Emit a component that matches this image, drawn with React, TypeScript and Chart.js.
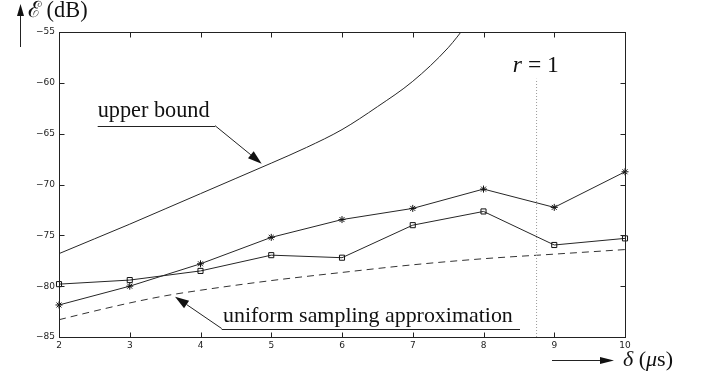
import React, { useEffect, useRef } from "react";
import { Chart, registerables } from "chart.js";

Chart.register(...registerables);

// ---- data ----
const xTicks = [2, 3, 4, 5, 6, 7, 8, 9, 10];
const yTicks = [-85, -80, -75, -70, -65, -60, -55];

const delta = [2, 3, 4, 5, 6, 7, 8, 9, 10];
const errStar = [-81.85, -80.0, -77.8, -75.2, -73.45, -72.35, -70.45, -72.25, -68.75];
const errSquare = [-79.8, -79.4, -78.5, -76.95, -77.2, -74.0, -72.65, -75.95, -75.3];

const uniformDelta = [2, 2.5, 3, 3.5, 4, 5, 6, 7, 8, 9, 10];
const uniformApprox = [-83.3, -82.45, -81.65, -80.95, -80.4, -79.45, -78.65, -77.9, -77.3, -76.85, -76.4];

const boundDelta = [2, 2.5, 3, 3.5, 4, 4.5, 5, 5.5, 6, 6.5, 7, 7.5, 7.75];
const upperBound = [-76.8, -75.35, -73.9, -72.4, -70.9, -69.4, -67.9, -66.35, -64.6, -62.35, -59.85, -56.55, -54.4];

const rLineDelta = [8.75, 8.75];
const rLineErr = [-85, -59.6];

const pts = (xs: number[], ys: number[]) => xs.map((x, i) => ({ x, y: ys[i] }));

type Part = { t: string; italic?: boolean };

function drawParts(ctx: CanvasRenderingContext2D, parts: Part[], family: string, targetW: number, x: number, y: number, align: "left" | "center") {
  const base = 20;
  const font = (size: number, it?: boolean) => `${it ? "italic " : ""}${size}px ${family}`;
  let w = 0;
  for (const p of parts) { ctx.font = font(base, p.italic); w += ctx.measureText(p.t).width; }
  const size = (base * targetW) / w;
  let total = 0;
  for (const p of parts) { ctx.font = font(size, p.italic); total += ctx.measureText(p.t).width; }
  let cx = align === "center" ? x - total / 2 : x;
  ctx.textBaseline = "alphabetic";
  ctx.textAlign = "left";
  for (const p of parts) {
    ctx.font = font(size, p.italic);
    ctx.fillText(p.t, cx, y);
    cx += ctx.measureText(p.t).width;
  }
}

function arrow(ctx: CanvasRenderingContext2D, x1: number, y1: number, x2: number, y2: number, len: number, half: number) {
  const ang = Math.atan2(y2 - y1, x2 - x1);
  const bx = x2 - len * Math.cos(ang), by = y2 - len * Math.sin(ang);
  ctx.beginPath();
  ctx.moveTo(x1, y1);
  ctx.lineTo(bx, by);
  ctx.stroke();
  ctx.beginPath();
  ctx.moveTo(x2, y2);
  ctx.lineTo(bx + half * Math.sin(ang), by - half * Math.cos(ang));
  ctx.lineTo(bx - half * Math.sin(ang), by + half * Math.cos(ang));
  ctx.closePath();
  ctx.fill();
}

const serif = '"Liberation Serif", "DejaVu Serif", serif';

const decor = {
  id: "decor",
  afterDatasetsDraw(chart: any) {
    const { ctx, chartArea: a, scales } = chart;
    const xs = scales.x, ys = scales.y;
    const X = (v: number) => xs.getPixelForValue(v);
    const Y = (v: number) => ys.getPixelForValue(v);
    ctx.save();
    ctx.strokeStyle = "#222";
    ctx.fillStyle = "#111";
    ctx.lineWidth = 1;
    const L = Math.round(a.left) + 0.5, R = Math.round(a.right) + 0.5;
    const T = Math.round(a.top) + 0.5, B = Math.round(a.bottom) + 0.5;
    ctx.strokeRect(L, T, R - L, B - T);
    const tl = 5;
    ctx.beginPath();
    for (const v of xTicks) {
      const p = Math.round(X(v)) + 0.5;
      ctx.moveTo(p, B); ctx.lineTo(p, B - tl);
      ctx.moveTo(p, T); ctx.lineTo(p, T + tl);
    }
    for (const v of yTicks) {
      const p = Math.round(Y(v)) + 0.5;
      ctx.moveTo(L, p); ctx.lineTo(L + tl, p);
      ctx.moveTo(R, p); ctx.lineTo(R - tl, p);
    }
    ctx.stroke();

    // annotation: upper bound
    ctx.fillStyle = "#111";
    drawParts(ctx, [{ t: "upper bound" }], serif, 112, X(2.547), Y(-63.33), "left");
    ctx.beginPath();
    ctx.moveTo(X(2.547), Math.round(Y(-64.21)) + 0.5);
    ctx.lineTo(X(4.205), Math.round(Y(-64.21)) + 0.5);
    ctx.stroke();
    arrow(ctx, X(4.205), Y(-64.21), X(4.865), Y(-67.95), 14, 4.5);

    // annotation: uniform sampling approximation
    drawParts(ctx, [{ t: "uniform sampling approximation" }], serif, 290, X(4.318), Y(-83.49), "left");
    ctx.beginPath();
    ctx.moveTo(X(4.3), Math.round(Y(-84.17)) + 0.5);
    ctx.lineTo(X(8.516), Math.round(Y(-84.17)) + 0.5);
    ctx.stroke();
    arrow(ctx, X(4.3), Y(-84.17), X(3.64), Y(-81.03), 14, 4.5);

    // r = 1
    drawParts(ctx, [{ t: "r", italic: true }, { t: " = 1" }], serif, 46, X(8.74), Y(-58.9), "center");

    // axis titles
    arrow(ctx, 20.5, 47, 20.5, 4, 12, 3.5);
    drawParts(ctx, [{ t: "ℰ" }, { t: " (dB)" }], serif, 60, 28, 17, "left");
    arrow(ctx, 552, 360.5, 614, 360.5, 14, 3.5);
    drawParts(ctx, [{ t: "δ", italic: true }, { t: " (" }, { t: "μ", italic: true }, { t: "s)" }], serif, 50, 623, 366, "left");
    ctx.restore();
  },
};

export default function App() {
  const ref = useRef<HTMLCanvasElement>(null);
  useEffect(() => {
    if (!ref.current) return;
    const lineColor = "#262626";
    const chart = new Chart(ref.current, {
      type: "line",
      data: {
        datasets: [
          {
            label: "r = 1",
            data: pts(rLineDelta, rLineErr),
            borderColor: "#9a9a9a",
            borderWidth: 1,
            borderDash: [1, 2],
            pointRadius: 0,
            clip: 0,
          },
          {
            label: "upper bound",
            data: pts(boundDelta, upperBound),
            borderColor: lineColor,
            borderWidth: 1,
            pointRadius: 0,
            cubicInterpolationMode: "monotone",
            clip: 0,
          },
          {
            label: "uniform sampling approximation",
            data: pts(uniformDelta, uniformApprox),
            borderColor: "#333",
            borderWidth: 1,
            borderDash: [7, 5],
            pointRadius: 0,
            cubicInterpolationMode: "monotone",
            clip: 0,
          },
          {
            label: "star",
            data: pts(delta, errStar),
            borderColor: lineColor,
            borderWidth: 1,
            pointStyle: "star",
            pointRadius: 3.5,
            pointBorderColor: "#111",
            pointBackgroundColor: "rgba(0,0,0,0)",
            pointBorderWidth: 1,
            clip: false,
          },
          {
            label: "square",
            data: pts(delta, errSquare),
            borderColor: lineColor,
            borderWidth: 1,
            pointStyle: "rect",
            pointRadius: 3.6,
            pointBorderColor: "#111",
            pointBackgroundColor: "rgba(0,0,0,0)",
            pointBorderWidth: 1,
            clip: false,
          },
        ],
      } as any,
      options: {
        animation: false,
        responsive: false,
        devicePixelRatio: 1,
        layout: { padding: { left: 0, top: 32, right: 76, bottom: 0 } },
        plugins: { legend: { display: false }, tooltip: { enabled: false } },
        elements: { line: { tension: 0 } },
        scales: {
          x: {
            type: "linear",
            min: 2,
            max: 10,
            afterFit: (s: any) => { s.height = 43; },
            afterBuildTicks: (s: any) => { s.ticks = xTicks.map((v) => ({ value: v })); },
            grid: { display: false, drawTicks: false },
            border: { display: false },
            ticks: { padding: 3, color: "#222", font: { family: '"DejaVu Sans"', size: 9 }, maxRotation: 0 },
          },
          y: {
            type: "linear",
            min: -85,
            max: -55,
            afterFit: (s: any) => { s.width = 59; },
            afterBuildTicks: (s: any) => { s.ticks = yTicks.map((v) => ({ value: v })); },
            grid: { display: false, drawTicks: false },
            border: { display: false },
            ticks: {
              padding: 4,
              color: "#222",
              font: { family: '"DejaVu Sans"', size: 9 },
              callback: (v: any) => String(v).replace("-", "\u2212"),
            },
          },
        },
      } as any,
      plugins: [decor],
    });
    return () => chart.destroy();
  }, []);
  return (
    <div style={{ position: "absolute", left: 0, top: 0, width: 701, height: 380, background: "#fff" }}>
      <canvas ref={ref} width={701} height={380} style={{ display: "block" }} />
    </div>
  );
}
